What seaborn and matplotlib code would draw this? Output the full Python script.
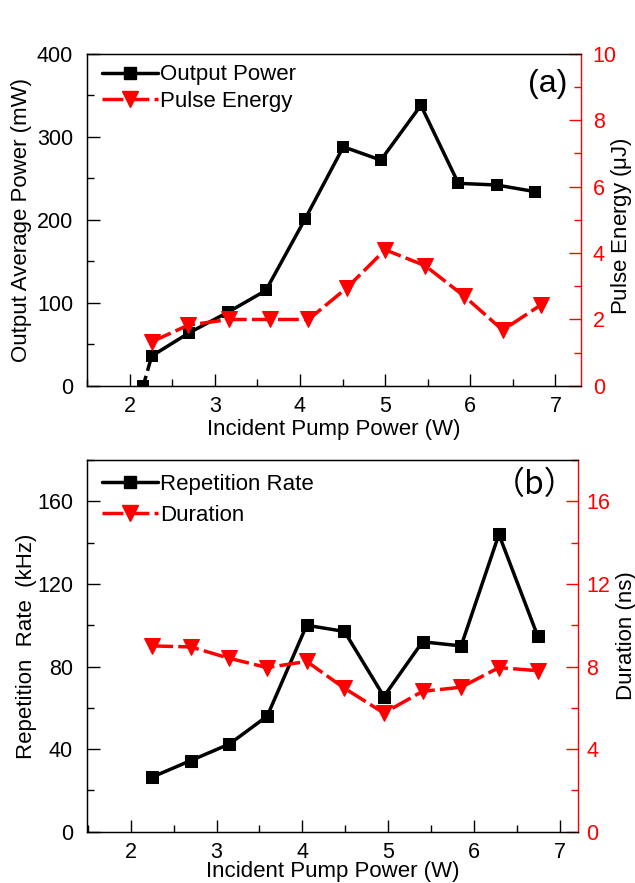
import numpy as np
import pandas as pd
import matplotlib
matplotlib.use("Agg")
import matplotlib.pyplot as plt
import seaborn as sns
from matplotlib.ticker import MultipleLocator

# panel (a)
pump_power = [2.16, 2.26, 2.70, 3.16, 3.60, 4.06, 4.51, 4.95, 5.42, 5.86, 6.31, 6.76]
output_power = [0, 36, 64, 89, 115, 201, 288, 272, 338, 244, 242, 234]
pump_energy = [2.26, 2.69, 3.17, 3.65, 4.10, 4.55, 5.00, 5.47, 5.93, 6.38, 6.83]
pulse_energy = [1.33, 1.83, 2.0, 2.0, 2.0, 2.95, 4.1, 3.62, 2.7, 1.68, 2.44]

# panel (b)
pump_rep = [2.25, 2.70, 3.15, 3.59, 4.05, 4.49, 4.95, 5.40, 5.85, 6.29, 6.74]
rep_rate = [26.5, 34.5, 42.5, 56, 100, 97, 65.5, 92, 90, 144, 95]
duration = [9.0, 8.95, 8.4, 7.95, 8.25, 6.95, 5.75, 6.8, 7.0, 7.95, 7.8]

sns.set_style("ticks")
plt.rcParams['font.family'] = ['Liberation Sans', 'Noto Sans CJK SC', 'DejaVu Sans']
plt.rcParams['xtick.direction'] = 'in'
plt.rcParams['ytick.direction'] = 'in'
plt.rcParams['mathtext.default'] = 'regular'
for k in ['text.color', 'axes.labelcolor', 'xtick.color', 'ytick.color', 'axes.edgecolor']:
    plt.rcParams[k] = 'black'

RED = '#ff0000'
TFS = 15.5   # tick labels
LFS = 16     # axis labels / legend
LW = 2.5
DASH = (0, (6, 1.5))


def style_axes(ax, ax2, xlim, ylim, ylim2, ymaj, ymin, y2maj, y2min, rpad):
    ax.set_xlim(*xlim)
    ax.set_ylim(*ylim)
    ax2.set_ylim(*ylim2)
    ax.xaxis.set_major_locator(MultipleLocator(1))
    ax.xaxis.set_minor_locator(MultipleLocator(0.5))
    ax.yaxis.set_major_locator(MultipleLocator(ymaj))
    ax.yaxis.set_minor_locator(MultipleLocator(ymin))
    ax2.yaxis.set_major_locator(MultipleLocator(y2maj))
    ax2.yaxis.set_minor_locator(MultipleLocator(y2min))
    ax.tick_params(which='major', length=9, width=1, labelsize=TFS, top=False, right=False)
    ax.tick_params(which='minor', length=5, width=1, top=False, right=False)
    ax.tick_params(axis='x', which='major', pad=7)
    ax.tick_params(axis='y', which='major', pad=10)
    ax2.tick_params(axis='y', which='major', length=9, width=1, labelsize=TFS,
                    colors=RED, direction='in', pad=rpad)
    ax2.tick_params(axis='y', which='minor', length=5, width=1, colors=RED, direction='in')
    for s in ['left', 'bottom', 'top']:
        ax.spines[s].set_color('black')
        ax.spines[s].set_linewidth(1)
    ax2.spines['right'].set_color(RED)
    ax2.spines['right'].set_linewidth(1)
    ax.spines['right'].set_visible(False)


def add_legend(ax, labels, y_anchor, spacing):
    h1 = plt.Line2D([], [], color='black', linewidth=LW, marker='s', markersize=9)
    h2 = plt.Line2D([], [], color=RED, linewidth=LW, linestyle=DASH, marker='v',
                    markersize=11)
    ax.legend([h1, h2], labels, loc='upper left', bbox_to_anchor=(0.013, y_anchor),
              frameon=False, fontsize=LFS, handlelength=2.5, handletextpad=0.1,
              borderaxespad=0, labelspacing=spacing)


fig = plt.figure(figsize=(6.35, 8.83), dpi=100)
ax_a = fig.add_axes([0.137, 0.563, 0.778, 0.376])
ax_a2 = ax_a.twinx()
ax_b = fig.add_axes([0.137, 0.058, 0.773, 0.421])
ax_b2 = ax_b.twinx()

# (a) output power: dashed threshold segment, then solid line
sns.lineplot(x=pump_power[:2], y=output_power[:2], ax=ax_a, color='black',
             linewidth=LW, linestyle=(0, (3, 1.5)), legend=False)
sns.lineplot(x=pump_power[1:], y=output_power[1:], ax=ax_a, color='black',
             linewidth=LW, legend=False)
sns.scatterplot(x=pump_power, y=output_power, ax=ax_a, color='black', marker='s',
                s=81, edgecolor='black', linewidth=0, legend=False, zorder=4)
sns.lineplot(x=pump_energy, y=pulse_energy, ax=ax_a2, color=RED, linewidth=LW,
             linestyle=DASH, marker='v', markersize=11, markeredgecolor=RED,
             legend=False)

style_axes(ax_a, ax_a2, (1.5, 7.3), (0, 400), (0, 10), 100, 50, 2, 1, 8.5)
ax_a.set_xlabel('Incident Pump Power (W)', fontsize=LFS, labelpad=2)
ax_a.set_ylabel('Output Average Power (mW)', fontsize=LFS)
ax_a.yaxis.set_label_coords(-0.111, 0.5)
ax_a2.set_ylabel('Pulse Energy ($\\mu$J)', fontsize=LFS)
ax_a2.yaxis.set_label_coords(1.057, 0.48)
ax_a.text(0.972, 0.91, '(a)', transform=ax_a.transAxes, fontsize=23,
          ha='right', va='center')
add_legend(ax_a2, ['Output Power', 'Pulse Energy'], 0.995, 0.25)

# (b) repetition rate and duration
sns.lineplot(x=pump_rep, y=rep_rate, ax=ax_b, color='black', linewidth=LW,
             marker='s', markersize=9, markeredgecolor='black', legend=False)
sns.lineplot(x=pump_rep, y=duration, ax=ax_b2, color=RED, linewidth=LW,
             linestyle=DASH, marker='v', markersize=11, markeredgecolor=RED,
             legend=False)

style_axes(ax_b, ax_b2, (1.49, 7.21), (0, 180), (0, 18), 40, 20, 4, 2, 6)
ax_b.set_xlabel('Incident Pump Power (W)', fontsize=LFS, labelpad=-1)
ax_b.set_ylabel('Repetition  Rate  (kHz)', fontsize=LFS)
ax_b.yaxis.set_label_coords(-0.102, 0.5)
ax_b2.set_ylabel('Duration (ns)', fontsize=LFS)
ax_b2.yaxis.set_label_coords(1.077, 0.527)
ax_b.text(0.997, 0.933, '（b）', transform=ax_b.transAxes, fontsize=23,
          ha='right', va='center', family=['Noto Sans CJK SC', 'DejaVu Sans'])
add_legend(ax_b2, ['Repetition Rate', 'Duration'], 0.986, 0.45)

fig.savefig('out.png', dpi=100)
